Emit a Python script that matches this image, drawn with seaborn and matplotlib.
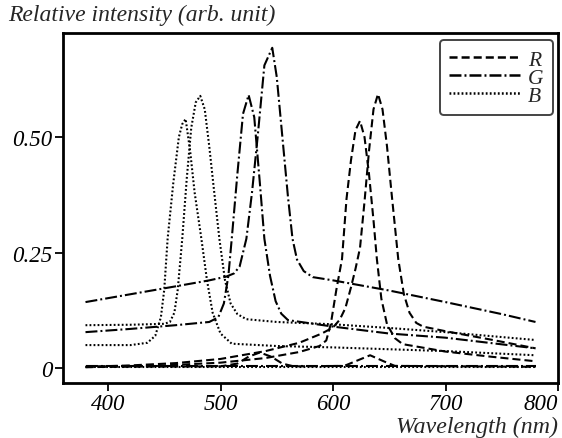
import matplotlib
matplotlib.use("Agg")
import matplotlib.pyplot as plt
from matplotlib.lines import Line2D
import pandas as pd
import seaborn as sns

# --- data (wavelength nm, relative intensity) ---
r1_wl = [380, 450, 500, 540, 570, 588, 594, 598, 603, 608, 612, 616, 620, 624, 628, 632, 636, 639, 643, 648, 655, 662, 700, 740, 780]
r1_val = [0.002, 0.006, 0.012, 0.022, 0.035, 0.048, 0.060, 0.095, 0.170, 0.236, 0.366, 0.450, 0.515, 0.535, 0.500, 0.420, 0.320, 0.236, 0.150, 0.095, 0.065, 0.052, 0.036, 0.025, 0.015]

r2_wl = [380, 420, 460, 500, 540, 570, 590, 600, 606, 611, 616, 620, 624, 628, 632, 636, 640, 644, 648, 652, 658, 663, 668, 674, 680, 700, 740, 780]
r2_val = [0.003, 0.006, 0.011, 0.020, 0.037, 0.055, 0.075, 0.088, 0.105, 0.130, 0.175, 0.215, 0.260, 0.360, 0.470, 0.560, 0.593, 0.560, 0.480, 0.380, 0.236, 0.160, 0.120, 0.098, 0.090, 0.080, 0.062, 0.043]

r3_wl = [380, 500, 515, 525, 535, 545, 555, 565, 610, 620, 633, 645, 655, 780]
r3_val = [0.003, 0.004, 0.010, 0.025, 0.034, 0.025, 0.010, 0.004, 0.005, 0.015, 0.028, 0.015, 0.005, 0.003]

g1_wl = [380, 420, 460, 490, 498, 503, 507, 510, 515, 520, 525, 530, 535, 539, 544, 549, 554, 560, 580, 600, 650, 700, 780]
g1_val = [0.078, 0.085, 0.093, 0.100, 0.110, 0.140, 0.200, 0.280, 0.420, 0.550, 0.591, 0.543, 0.400, 0.280, 0.200, 0.145, 0.118, 0.104, 0.097, 0.090, 0.075, 0.066, 0.043]

g2_wl = [380, 420, 460, 490, 505, 512, 517, 520, 523, 528, 533, 539, 546, 550, 555, 560, 564, 568, 574, 582, 600, 650, 700, 750, 780]
g2_val = [0.143, 0.160, 0.177, 0.190, 0.198, 0.205, 0.220, 0.250, 0.280, 0.380, 0.500, 0.655, 0.693, 0.630, 0.500, 0.370, 0.280, 0.235, 0.210, 0.197, 0.190, 0.168, 0.143, 0.117, 0.100]

g3_wl = [380, 780]
g3_val = [0.004, 0.004]

b1_wl = [380, 420, 435, 442, 447, 450, 453, 458, 463, 466, 469, 473, 477, 483, 488, 493, 500, 510, 550, 600, 650, 700, 780]
b1_val = [0.050, 0.050, 0.055, 0.070, 0.110, 0.170, 0.280, 0.400, 0.500, 0.528, 0.539, 0.470, 0.380, 0.280, 0.190, 0.120, 0.075, 0.053, 0.048, 0.045, 0.041, 0.037, 0.028]

b2_wl = [380, 420, 450, 455, 459, 462, 466, 470, 474, 478, 482, 486, 490, 494, 499, 504, 509, 515, 523, 550, 600, 650, 700, 780]
b2_val = [0.093, 0.094, 0.096, 0.100, 0.120, 0.170, 0.280, 0.410, 0.520, 0.575, 0.589, 0.560, 0.480, 0.390, 0.280, 0.190, 0.140, 0.117, 0.106, 0.100, 0.095, 0.087, 0.078, 0.061]

b3_wl = [380, 780]
b3_val = [0.003, 0.003]

x_ticks = [400, 500, 600, 700, 800]
y_ticks = [0, 0.25, 0.50]
y_tick_labels = ["0", "0.25", "0.50"]
legend_labels = ["R", "G", "B"]

# --- styling ---
sns.set_style("ticks")
plt.rcParams["font.family"] = ["Liberation Serif", "DejaVu Serif"]
plt.rcParams["lines.scale_dashes"] = False

dash = (0, (5.8, 2.9))
dashdot = (0, (8.6, 2.2, 1.4, 2.2))
dot = (0, (1.3, 1.6))

curves = [
    (r1_wl, r1_val, dash), (r2_wl, r2_val, dash), (r3_wl, r3_val, dash),
    (g1_wl, g1_val, dashdot), (g2_wl, g2_val, dashdot), (g3_wl, g3_val, dashdot),
    (b1_wl, b1_val, dot), (b2_wl, b2_val, dot), (b3_wl, b3_val, dot),
]

fig, ax = plt.subplots(figsize=(5.62, 4.39), dpi=100)
fig.subplots_adjust(left=63 / 562, right=558 / 562, top=1 - 34 / 439, bottom=1 - 384 / 439)

for wl, val, ls in curves:
    df = pd.DataFrame({"wavelength": wl, "intensity": val})
    sns.lineplot(data=df, x="wavelength", y="intensity", ax=ax, color="black",
                 linestyle=ls, linewidth=1.5, sort=False)

ax.set_xlim(360, 800)
ax.set_ylim(-0.032, 0.725)
ax.set_xticks(x_ticks)
ax.set_xticklabels([str(t) for t in x_ticks], fontstyle="italic", fontsize=16.5)
ax.get_xticklabels()[-1].set_ha("right")
ax.set_yticks(y_ticks)
ax.set_yticklabels(y_tick_labels, fontstyle="italic", fontsize=16.5)
ax.tick_params(direction="out", length=6, width=1.3, colors="black", pad=1.5)
ax.set_xlabel("")
ax.set_ylabel("")
for s in ax.spines.values():
    s.set_visible(True)
    s.set_linewidth(2)
    s.set_color("black")

fig.text(8 / 562, 1 - 21 / 439, "Relative intensity (arb. unit)", fontstyle="italic",
         fontsize=17, ha="left", va="baseline")
fig.text(558 / 562, 1 - 433 / 439, "Wavelength (nm)", fontstyle="italic",
         fontsize=17.2, ha="right", va="baseline")

handles = [Line2D([], [], color="black", linestyle=ls, linewidth=1.8) for ls in (dash, dashdot, dot)]
leg = ax.legend(handles, legend_labels, loc="upper right", handlelength=3.3,
                fancybox=True, framealpha=1, edgecolor="#444444", labelspacing=-0.1,
                borderpad=0.45, handletextpad=0.35, borderaxespad=0,
                bbox_to_anchor=(0.99, 0.98), prop={"style": "italic", "size": 15.5})
leg.get_frame().set_linewidth(1.4)

fig.savefig("out.png", dpi=100)
